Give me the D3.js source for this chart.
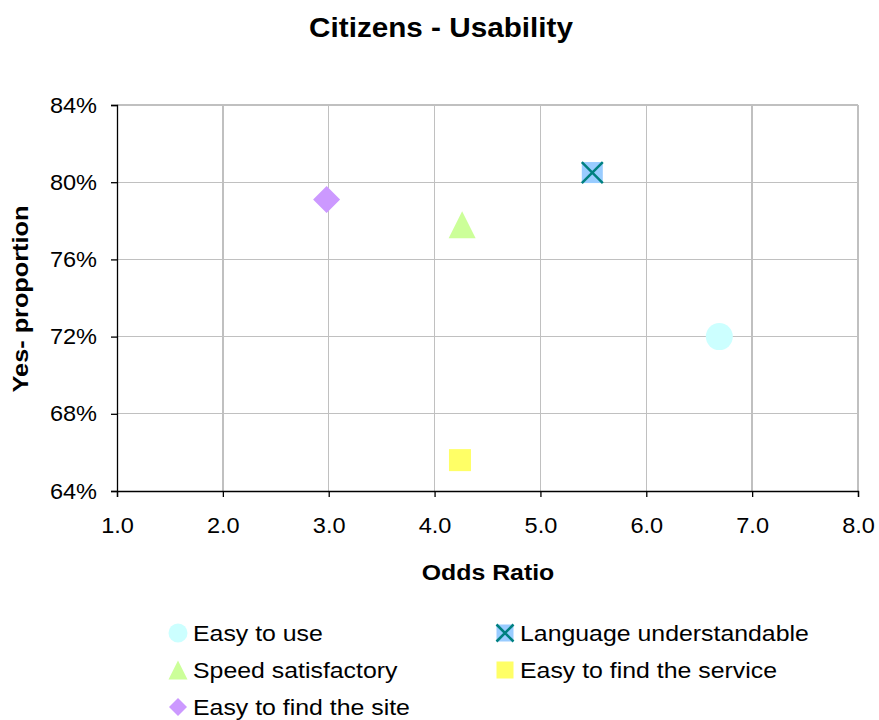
<!DOCTYPE html>
<html><head><meta charset="utf-8">
<script src="https://cdn.jsdelivr.net/npm/d3@7/dist/d3.min.js"></script>
<style>
html,body{margin:0;padding:0;background:#fff;}
text{font-family:Arial,"Liberation Sans",Helvetica,sans-serif;fill:#000;}
</style></head>
<body>
<svg id="chart" width="879" height="720"></svg>
<script>
const seriesNames = ["Easy to use","Language understandable","Speed satisfactory","Easy to find the service","Easy to find the site"];
const oddsRatio = [6.69, 5.49, 4.26, 4.24, 2.98];
const yesProportion = [0.720, 0.805, 0.778, 0.656, 0.791];
const markerShapes = ["circle","xsquare","triangle","square","diamond"];
const fills = ["#CCFFFF","#99CCFF","#CCFF99","#FFFF66","#CC99FF"];
const xTicks = [1,2,3,4,5,6,7,8];
const yTicks = [0.64,0.68,0.72,0.76,0.80,0.84];

const svg = d3.select("#chart");
const m = {left:117, right:858, top:105, bottom:491};
const x = d3.scaleLinear().domain([1,8]).range([m.left,m.right]);
const y = d3.scaleLinear().domain([0.64,0.84]).range([m.bottom,m.top]);

function stretchedText(px, py, str, size, sx, opts={}){
  const gg = svg.append("g").attr("transform",`translate(${px},${py})${opts.rotate?` rotate(${opts.rotate})`:""} scale(${sx},1)`);
  const t = gg.append("text").attr("text-anchor",opts.anchor||"start").style("font-size",size+"px").text(str);
  if(opts.bold) t.style("font-weight","bold");
  return t;
}

// title
stretchedText(441,37,"Citizens - Usability",28,1.06,{anchor:"middle",bold:true});

// grid
const g = svg.append("g");
g.selectAll("line.gy").data(yTicks.slice(1)).join("line")
  .attr("x1",m.left).attr("x2",m.right).attr("y1",d=>y(d)).attr("y2",d=>y(d))
  .attr("stroke","#C0C0C0").attr("stroke-width",1.3).attr("shape-rendering","crispEdges");
g.selectAll("line.gx").data(xTicks.slice(1)).join("line")
  .attr("y1",m.top).attr("y2",m.bottom).attr("x1",d=>x(d)).attr("x2",d=>x(d))
  .attr("stroke","#C0C0C0").attr("stroke-width",1.3).attr("shape-rendering","crispEdges");

// axes
const tickSX = 1.07;
const xAxis = d3.axisBottom(x).tickValues(xTicks).tickFormat(d3.format(".1f")).tickSize(6).tickPadding(20);
const yAxis = d3.axisLeft(y).tickValues(yTicks).tickFormat(d3.format(".0%")).tickSize(6).tickPadding(14);
const gx = svg.append("g").attr("transform",`translate(0,${m.bottom})`).call(xAxis);
const gy = svg.append("g").attr("transform",`translate(${m.left},0)`).call(yAxis);
[gx,gy].forEach(a=>{
  a.select(".domain").attr("stroke","#000").attr("stroke-width",1.3);
  a.selectAll(".tick line").attr("stroke","#000").attr("stroke-width",1.3);
  a.selectAll("text").style("font-size","22px").attr("fill","#000").style("font-family","Arial,'Liberation Sans',sans-serif");
});
gx.selectAll(".tick text").attr("transform",`scale(${tickSX},1)`);
gy.selectAll(".tick text").each(function(){
  const t = d3.select(this); const ox = +t.attr("x");
  t.attr("x", ox/tickSX).attr("transform",`scale(${tickSX},1)`);
});

// axis titles
stretchedText(488,580,"Odds Ratio",22,1.13,{anchor:"middle",bold:true});
stretchedText(28,299,"Yes- proportion",22,1.15,{anchor:"middle",bold:true,rotate:-90});

function drawMarker(sel, shape, fill, s){
  const h = s/2;
  if(shape==="circle") sel.append("circle").attr("r",h).attr("fill",fill);
  else if(shape==="triangle") sel.append("path").attr("d",`M0,${-h}L${h},${h}L${-h},${h}Z`).attr("fill",fill);
  else if(shape==="diamond") sel.append("path").attr("d",`M0,${-h}L${h},0L0,${h}L${-h},0Z`).attr("fill",fill);
  else if(shape==="square") sel.append("rect").attr("x",-h).attr("y",-h).attr("width",s).attr("height",s).attr("fill",fill);
  else if(shape==="xsquare"){
    sel.append("rect").attr("x",-h).attr("y",-h).attr("width",s).attr("height",s).attr("fill",fill);
    sel.append("path").attr("d",`M${-h},${-h}L${h},${h}M${h},${-h}L${-h},${h}`).attr("stroke","#008080").attr("stroke-width",2.5);
  }
}
const sizes = {circle:27,xsquare:21,triangle:27,square:22,diamond:27};
seriesNames.forEach((n,i)=>{
  const gg = svg.append("g").attr("transform",`translate(${x(oddsRatio[i])},${y(yesProportion[i])})`);
  drawMarker(gg, markerShapes[i], fills[i], sizes[markerShapes[i]]);
});

// legend
const legendOrder = [0,1,2,3,4];
const legPos = [[178,633],[505,633],[178,670],[505,670],[178,707]];
const legSizes = {circle:19,xsquare:17,triangle:19,square:17,diamond:18};
legendOrder.forEach((idx,k)=>{
  const [lx,ly] = legPos[k];
  const gg = svg.append("g").attr("transform",`translate(${lx},${ly})`);
  drawMarker(gg, markerShapes[idx], fills[idx], legSizes[markerShapes[idx]]);
  stretchedText(lx+15, ly+8, seriesNames[idx], 22, 1.13);
});
</script>
</body></html>
